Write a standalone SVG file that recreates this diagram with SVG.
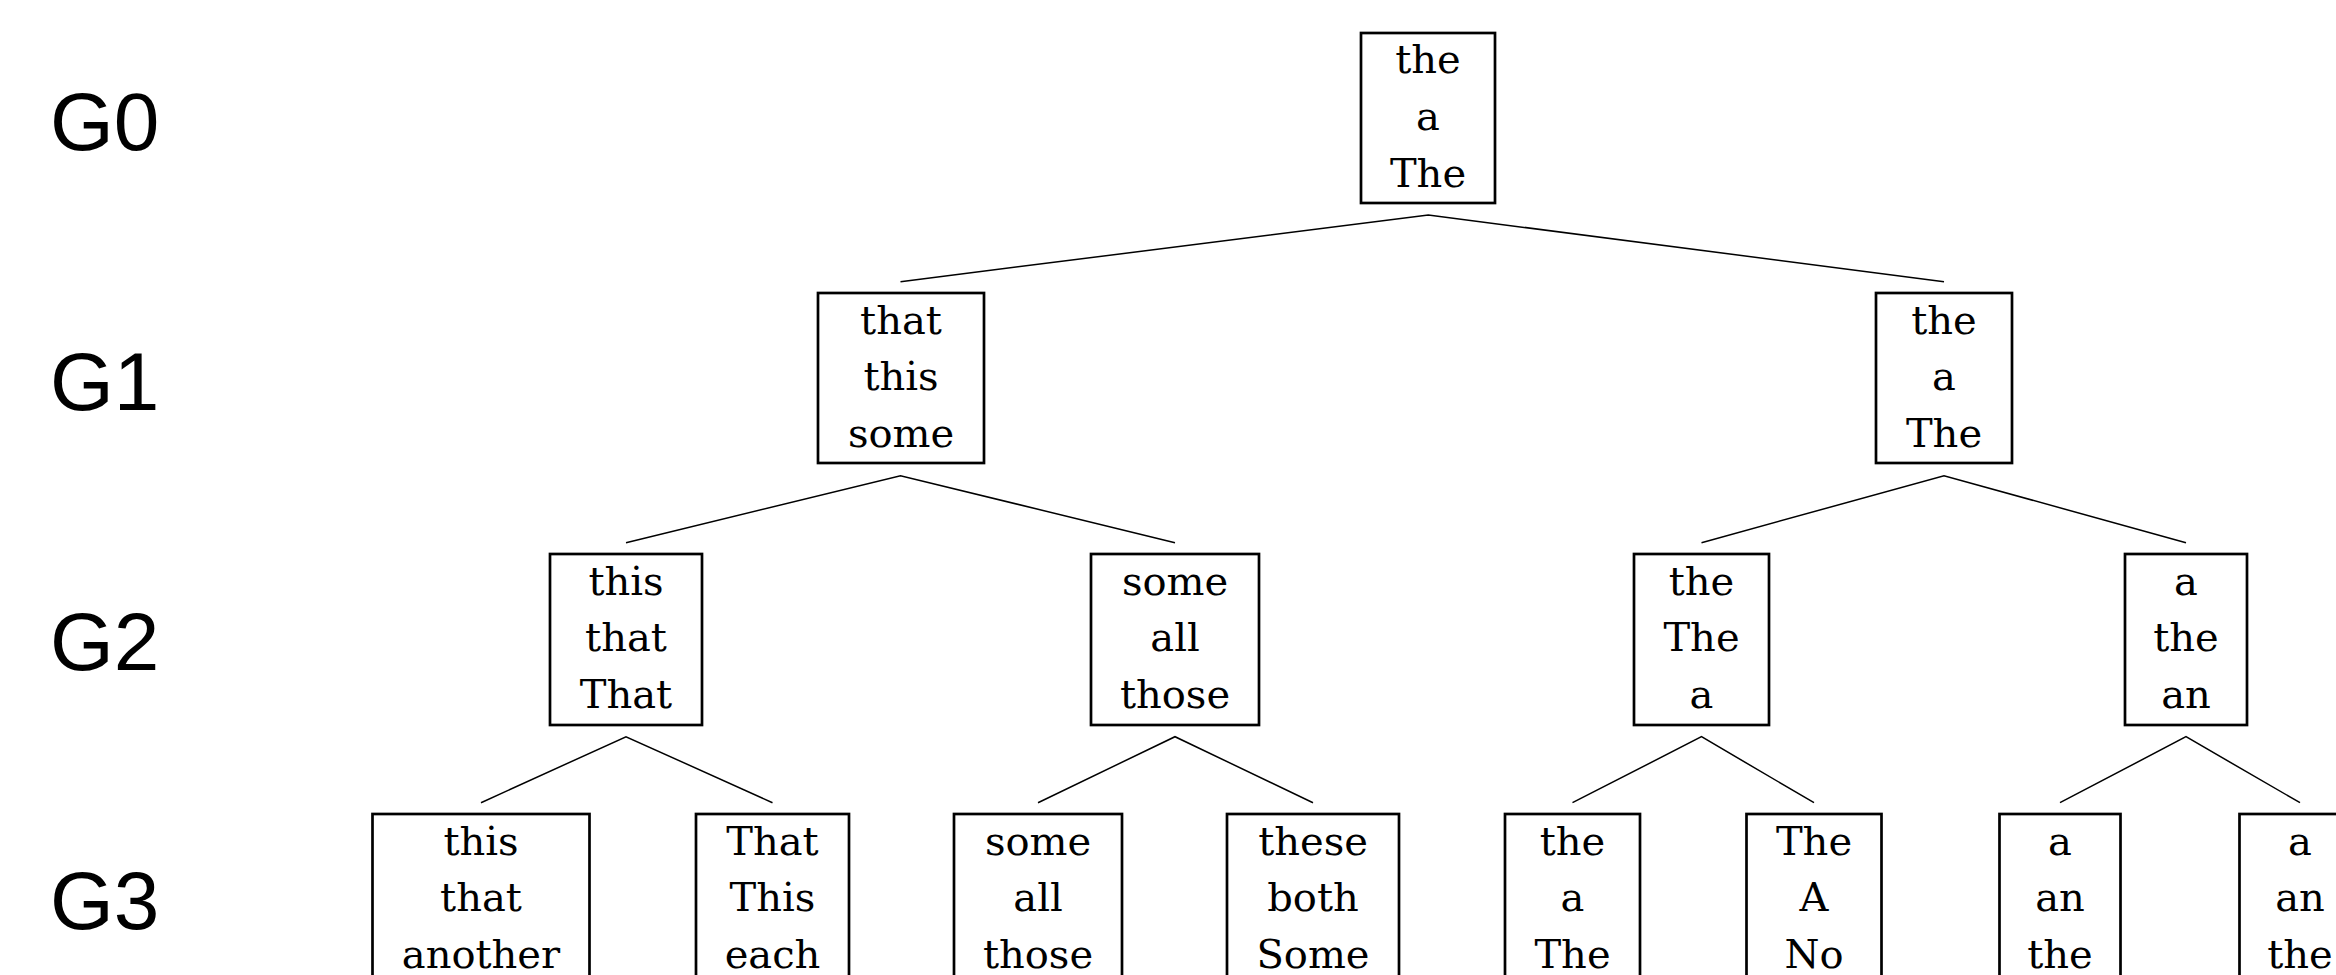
<svg xmlns="http://www.w3.org/2000/svg" width="2336" height="975" viewBox="0 0 2336 975">
<style>
.box{fill:#fff;stroke:#000;stroke-width:2.7}
.t{font-family:"DejaVu Serif","Liberation Serif",serif;font-size:40px;text-anchor:middle;fill:#000}
.lbl{font-family:"Liberation Sans",Arial,sans-serif;font-size:82px;fill:#000}
.c{stroke:#000;stroke-width:1.5;fill:none}
</style>
<rect width="2336" height="975" fill="#fff"/>
<g id="labels">
<text class="lbl" x="50" y="150">G0</text>
<text class="lbl" x="50" y="410">G1</text>
<text class="lbl" x="50" y="670">G2</text>
<text class="lbl" x="50" y="929">G3</text>
</g>
<g id="connectors">
<polyline class="c" points="900.5,281.7 1428.3,215 1944,281.7"/>
<polyline class="c" points="626,542.7 900.5,475.7 1175,542.7"/>
<polyline class="c" points="1701.5,542.7 1944,475.7 2186,542.7"/>
<polyline class="c" points="481,802.7 626,736.7 772.5,802.7"/>
<polyline class="c" points="1038,802.7 1175,736.7 1313,802.7"/>
<polyline class="c" points="1572.5,802.7 1701.5,736.7 1814,802.7"/>
<polyline class="c" points="2060,802.7 2186,736.7 2300,802.7"/>
</g>
<g id="n0"><rect class="box" x="1361" y="33" width="134" height="170"/>
<text class="t" x="1428" y="73.3">the</text><text class="t" x="1428" y="130">a</text><text class="t" x="1428" y="186.7">The</text></g>
<g id="n1a"><rect class="box" x="818" y="293" width="166" height="170"/>
<text class="t" x="901" y="333.6">that</text><text class="t" x="901" y="390.3">this</text><text class="t" x="901" y="447">some</text></g>
<g id="n1b"><rect class="box" x="1876" y="293" width="136" height="170"/>
<text class="t" x="1944" y="333.6">the</text><text class="t" x="1944" y="390.3">a</text><text class="t" x="1944" y="447">The</text></g>
<g id="n2a"><rect class="box" x="550" y="554" width="152" height="171"/>
<text class="t" x="626" y="594.6">this</text><text class="t" x="626" y="651.3">that</text><text class="t" x="626" y="708">That</text></g>
<g id="n2b"><rect class="box" x="1091" y="554" width="168" height="171"/>
<text class="t" x="1175" y="594.6">some</text><text class="t" x="1175" y="651.3">all</text><text class="t" x="1175" y="708">those</text></g>
<g id="n2c"><rect class="box" x="1634" y="554" width="135" height="171"/>
<text class="t" x="1701.5" y="594.6">the</text><text class="t" x="1701.5" y="651.3">The</text><text class="t" x="1701.5" y="708">a</text></g>
<g id="n2d"><rect class="box" x="2125" y="554" width="122" height="171"/>
<text class="t" x="2186" y="594.6">a</text><text class="t" x="2186" y="651.3">the</text><text class="t" x="2186" y="708">an</text></g>
<g id="n3a"><rect class="box" x="372.5" y="814" width="217" height="171"/>
<text class="t" x="481" y="854.6">this</text><text class="t" x="481" y="911.3">that</text><text class="t" x="481" y="968">another</text></g>
<g id="n3b"><rect class="box" x="696" y="814" width="153" height="171"/>
<text class="t" x="772.5" y="854.6">That</text><text class="t" x="772.5" y="911.3">This</text><text class="t" x="772.5" y="968">each</text></g>
<g id="n3c"><rect class="box" x="954" y="814" width="168" height="171"/>
<text class="t" x="1038" y="854.6">some</text><text class="t" x="1038" y="911.3">all</text><text class="t" x="1038" y="968">those</text></g>
<g id="n3d"><rect class="box" x="1227" y="814" width="172" height="171"/>
<text class="t" x="1313" y="854.6">these</text><text class="t" x="1313" y="911.3">both</text><text class="t" x="1313" y="968">Some</text></g>
<g id="n3e"><rect class="box" x="1505" y="814" width="135" height="171"/>
<text class="t" x="1572.5" y="854.6">the</text><text class="t" x="1572.5" y="911.3">a</text><text class="t" x="1572.5" y="968">The</text></g>
<g id="n3f"><rect class="box" x="1746.5" y="814" width="135" height="171"/>
<text class="t" x="1814" y="854.6">The</text><text class="t" x="1814" y="911.3">A</text><text class="t" x="1814" y="968">No</text></g>
<g id="n3g"><rect class="box" x="1999.5" y="814" width="121" height="171"/>
<text class="t" x="2060" y="854.6">a</text><text class="t" x="2060" y="911.3">an</text><text class="t" x="2060" y="968">the</text></g>
<g id="n3h"><rect class="box" x="2239.5" y="814" width="121" height="171"/>
<text class="t" x="2300" y="854.6">a</text><text class="t" x="2300" y="911.3">an</text><text class="t" x="2300" y="968">the</text></g>
</svg>
